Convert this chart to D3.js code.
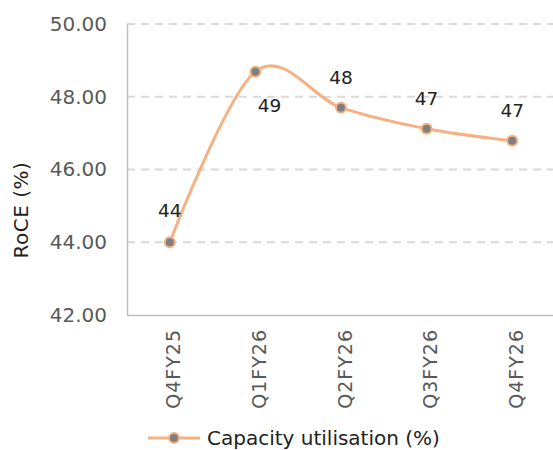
<!DOCTYPE html>
<html>
<head>
<meta charset="utf-8">
<script src="https://cdn.jsdelivr.net/npm/d3@7"></script>
<style>
  body { margin: 0; background: #fff; }
  svg { font-family: "DejaVu Sans", Verdana, sans-serif; }
</style>
</head>
<body>
<div id="chart"></div>
<script>
const quarters = ["Q4FY25", "Q1FY26", "Q2FY26", "Q3FY26", "Q4FY26"];
const utilisation = [44.0, 48.69, 47.7, 47.12, 46.79];
const labels = ["44", "49", "48", "47", "47"];
const yTicks = [42, 44, 46, 48, 50];

const width = 553;
const height = 450;
const margin = { top: 24, right: 0, bottom: 135, left: 127 };

const svg = d3.select("#chart")
  .append("svg")
  .attr("width", width)
  .attr("height", height);

const x = d3.scaleBand()
  .domain(quarters)
  .range([margin.left, width + 2]);

const y = d3.scaleLinear()
  .domain([42, 50])
  .range([height - margin.bottom, margin.top]);

const cx = d => x(d) + x.bandwidth() / 2;

// gridlines
svg.append("g")
  .selectAll("line")
  .data(yTicks.filter(t => t > 42))
  .join("line")
  .attr("x1", margin.left)
  .attr("x2", width)
  .attr("y1", d => y(d))
  .attr("y2", d => y(d))
  .attr("stroke", "#d9d9d9")
  .attr("stroke-width", 2)
  .attr("stroke-dasharray", "8,6");

// y axis
const yAxis = svg.append("g")
  .attr("transform", `translate(${margin.left},0)`)
  .call(d3.axisLeft(y).tickValues(yTicks).tickFormat(d3.format(".2f")).tickSize(0).tickPadding(20));
yAxis.select(".domain").attr("stroke", "#bfbfbf").attr("stroke-width", 1.5);
yAxis.selectAll("text")
  .attr("fill", "#595959")
  .style("font-size", "20px")
  .style("font-family", "DejaVu Sans, sans-serif");

// x axis
const xAxis = svg.append("g")
  .attr("transform", `translate(0,${y(42)})`)
  .call(d3.axisBottom(x).tickSize(0).tickPadding(0));
xAxis.select(".domain").attr("stroke", "#bfbfbf").attr("stroke-width", 1.5);
xAxis.selectAll("text")
  .attr("fill", "#595959")
  .style("font-size", "19px")
  .style("letter-spacing", "1px")
  .style("font-family", "DejaVu Sans, sans-serif")
  .attr("transform", "rotate(-90)")
  .attr("text-anchor", "end")
  .attr("x", -14)
  .attr("y", 4)
  .attr("dy", "0.35em");

// y axis title
svg.append("text")
  .attr("transform", `translate(28,210) rotate(-90)`)
  .attr("text-anchor", "middle")
  .attr("fill", "#222")
  .style("font-size", "20px")
  .style("letter-spacing", "0.5px")
  .text("RoCE (%)");

// line
const line = d3.line()
  .x((d, i) => cx(quarters[i]))
  .y(d => y(d))
  .curve(d3.curveCardinal.tension(0));

svg.append("path")
  .datum(utilisation)
  .attr("fill", "none")
  .attr("stroke", "#f4b183")
  .attr("stroke-width", 3)
  .attr("d", line);

svg.selectAll(".pt")
  .data(utilisation)
  .join("circle")
  .attr("class", "pt")
  .attr("cx", (d, i) => cx(quarters[i]))
  .attr("cy", d => y(d))
  .attr("r", 5)
  .attr("fill", "#7f7f7f")
  .attr("stroke", "#f4b183")
  .attr("stroke-width", 2);

// data labels
const labelOffsets = [[0, -25], [14, 40], [0, -24], [0, -24], [0, -24]];
svg.selectAll(".lbl")
  .data(utilisation)
  .join("text")
  .attr("class", "lbl")
  .attr("x", (d, i) => cx(quarters[i]) + labelOffsets[i][0])
  .attr("y", (d, i) => y(d) + labelOffsets[i][1])
  .attr("text-anchor", "middle")
  .attr("fill", "#222")
  .style("font-size", "18.5px")
  .text((d, i) => labels[i]);

// legend
const legend = svg.append("g").attr("transform", "translate(148,438)");
legend.append("line")
  .attr("x1", 0).attr("x2", 52)
  .attr("stroke", "#f4b183").attr("stroke-width", 3);
legend.append("circle")
  .attr("cx", 26).attr("r", 5)
  .attr("fill", "#7f7f7f").attr("stroke", "#f4b183").attr("stroke-width", 2);
legend.append("text")
  .attr("x", 59).attr("dy", "0.35em")
  .attr("fill", "#222")
  .style("font-size", "20px")
  .text("Capacity utilisation (%)");
</script>
</body>
</html>
